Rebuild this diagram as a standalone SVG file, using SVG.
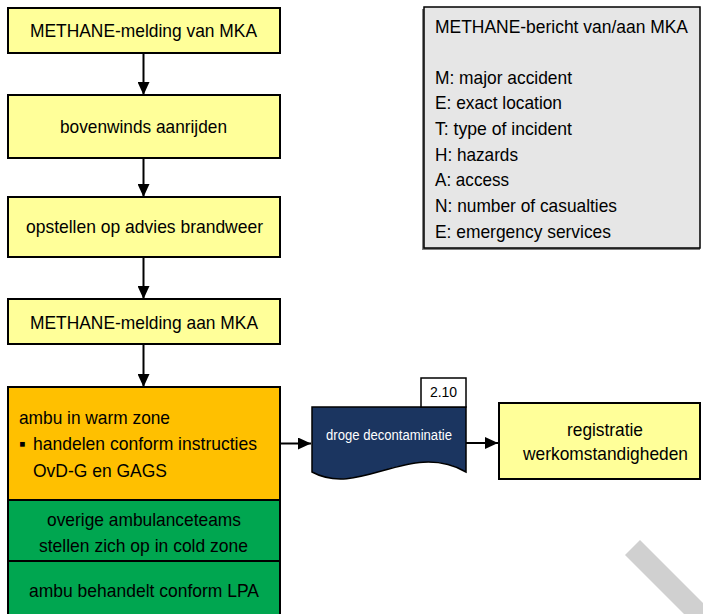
<svg xmlns="http://www.w3.org/2000/svg" width="703" height="614" viewBox="0 0 703 614">
<style>
.t{font-family:"Liberation Sans",Arial,sans-serif;font-size:19px;fill:#000}
.c{text-anchor:middle}
.box{stroke:#000;stroke-width:2}
.y{fill:#ffff99}
.o{fill:#ffc000}
.g{fill:#00a650}
.conn{stroke:#000;stroke-width:2;fill:none}
</style>
<defs>
<marker id="ah" markerWidth="13" markerHeight="12" refX="13" refY="6" orient="auto" markerUnits="userSpaceOnUse">
<path d="M0,0 L13,6 L0,12 Z" fill="#000"/>
</marker>
</defs>
<rect width="703" height="614" fill="#fff"/>
<polygon points="640,540 703,603 703,614 684,614 625,555" fill="#d0d0d0"/>

<g id="n1">
<rect class="box y" x="8" y="8" width="272" height="45"/>
<text class="t c" x="143.5" y="37" textLength="227" lengthAdjust="spacingAndGlyphs">METHANE-melding van MKA</text>
</g>
<g id="n2">
<rect class="box y" x="8" y="95" width="272" height="63"/>
<text class="t c" x="143.5" y="133" textLength="167" lengthAdjust="spacingAndGlyphs">bovenwinds aanrijden</text>
</g>
<g id="n3">
<rect class="box y" x="8" y="197" width="272" height="60"/>
<text class="t c" x="144.5" y="233" textLength="237" lengthAdjust="spacingAndGlyphs">opstellen op advies brandweer</text>
</g>
<g id="n4">
<rect class="box y" x="8" y="299" width="272" height="45"/>
<text class="t c" x="144" y="329" textLength="228" lengthAdjust="spacingAndGlyphs">METHANE-melding aan MKA</text>
</g>
<g id="n5">
<rect class="box o" x="8" y="387" width="272" height="113"/>
<text class="t" x="19" y="424" textLength="151" lengthAdjust="spacingAndGlyphs">ambu in warm zone</text>
<text class="t" x="19" y="450" font-size="16">▪</text>
<text class="t" x="33" y="450" textLength="224" lengthAdjust="spacingAndGlyphs">handelen conform instructies</text>
<text class="t" x="33" y="477" textLength="134" lengthAdjust="spacingAndGlyphs">OvD-G en GAGS</text>
</g>
<g id="n6">
<rect class="box g" x="8" y="500" width="272" height="61"/>
<text class="t c" x="144" y="526" textLength="194" lengthAdjust="spacingAndGlyphs">overige ambulanceteams</text>
<text class="t c" x="143.5" y="552" textLength="209" lengthAdjust="spacingAndGlyphs">stellen zich op in cold zone</text>
</g>
<g id="n7">
<rect class="box g" x="8" y="561" width="272" height="60"/>
<text class="t c" x="144" y="597" textLength="230" lengthAdjust="spacingAndGlyphs">ambu behandelt conform LPA</text>
</g>
<g id="legend">
<rect x="422" y="9" width="278" height="241" fill="#808080"/>
<rect x="424" y="7" width="276" height="241" fill="#e6e6e6" stroke="#000" stroke-width="1.5"/>
<text class="t" x="435" y="33" style="font-size:17.5px" textLength="253" lengthAdjust="spacingAndGlyphs">METHANE-bericht van/aan MKA</text>
<text class="t" x="435" y="83.5" textLength="137" lengthAdjust="spacingAndGlyphs">M: major accident</text>
<text class="t" x="435" y="109.2" textLength="127" lengthAdjust="spacingAndGlyphs">E: exact location</text>
<text class="t" x="435" y="134.9" textLength="137" lengthAdjust="spacingAndGlyphs">T: type of incident</text>
<text class="t" x="435" y="160.6" textLength="83" lengthAdjust="spacingAndGlyphs">H: hazards</text>
<text class="t" x="435" y="186.3" textLength="74" lengthAdjust="spacingAndGlyphs">A: access</text>
<text class="t" x="435" y="212" textLength="182" lengthAdjust="spacingAndGlyphs">N: number of casualties</text>
<text class="t" x="435" y="237.7" textLength="176" lengthAdjust="spacingAndGlyphs">E: emergency services</text>
</g>
<g id="n8">
<path d="M312,407 H466 V472 C410,440 360,498 312,472 Z" fill="#1b3560" stroke="#000" stroke-width="1.5"/>
<text class="t c" x="389" y="440" style="font-size:14px;fill:#fff" textLength="126" lengthAdjust="spacingAndGlyphs">droge decontaminatie</text>
<rect x="421" y="378" width="45" height="29" fill="#fff" stroke="#000" stroke-width="1.5"/>
<text class="t c" x="443.5" y="397" style="font-size:14px">2.10</text>
</g>
<g id="n9">
<rect class="box y" x="499" y="403" width="201" height="76"/>
<text class="t c" x="605" y="436" textLength="76" lengthAdjust="spacingAndGlyphs">registratie</text>
<text class="t c" x="605.5" y="460" textLength="165" lengthAdjust="spacingAndGlyphs">werkomstandigheden</text>
</g>
<g id="connectors">
<line class="conn" x1="143.5" y1="53" x2="143.5" y2="95" marker-end="url(#ah)"/>
<line class="conn" x1="143.5" y1="158" x2="143.5" y2="197" marker-end="url(#ah)"/>
<line class="conn" x1="143.5" y1="257" x2="143.5" y2="299" marker-end="url(#ah)"/>
<line class="conn" x1="143.5" y1="344" x2="143.5" y2="387" marker-end="url(#ah)"/>
<line class="conn" x1="280" y1="443.5" x2="311" y2="443.5" marker-end="url(#ah)"/>
<line class="conn" x1="466" y1="443" x2="498" y2="443" marker-end="url(#ah)"/>
</g>
</svg>
